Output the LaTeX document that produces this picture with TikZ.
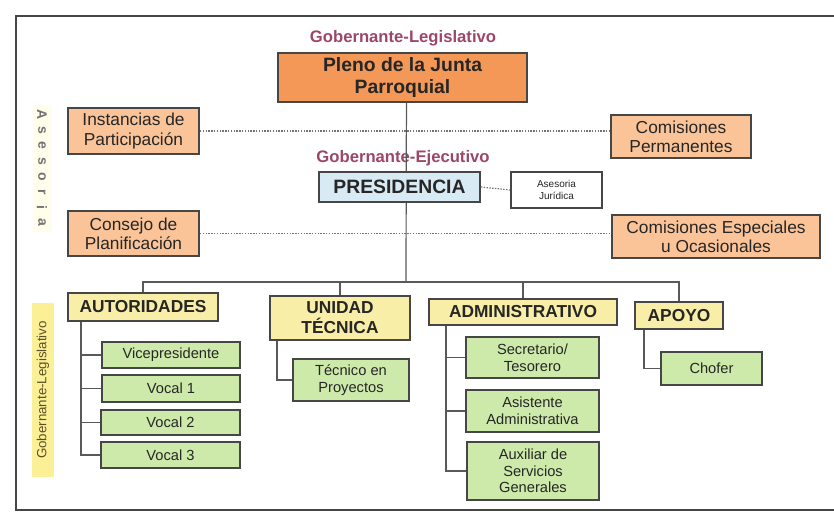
\documentclass[tikz,border=0pt]{standalone}
\usepackage{fontspec}
\setmainfont{Liberation Sans}
\definecolor{plenoorange}{RGB}{244,152,88}
\definecolor{peach}{RGB}{250,196,152}
\definecolor{presblue}{RGB}{216,234,244}
\definecolor{unityellow}{RGB}{248,238,168}
\definecolor{staffgreen}{RGB}{205,234,170}
\definecolor{labelmauve}{RGB}{156,70,104}
\definecolor{framegray}{RGB}{70,70,70}
\definecolor{stripyellow}{RGB}{252,240,150}
\tikzset{
  box/.style={draw=framegray, line width=1.4pt, align=center, text=black!85, inner sep=1pt},
  peachbox/.style={box, fill=peach, font=\fontsize{13}{14.5}\selectfont},
  unitbox/.style={box, fill=unityellow, font=\bfseries\fontsize{13}{15}\selectfont},
  staffbox/.style={box, fill=staffgreen, font=\fontsize{11}{12.5}\selectfont},
  tag/.style={text=labelmauve, font=\bfseries\fontsize{12.5}{14}\selectfont},
  link/.style={draw=black!65, line width=0.9pt},
  advice/.style={draw=black!55, line width=0.9pt, dash pattern=on 1.1pt off 1pt}
}
\begin{document}
\begin{tikzpicture}[x=0.75pt,y=0.75pt,yscale=-1]
\useasboundingbox (0,0) rectangle (834,521);
% frame
\draw [framegray, line width=1.6pt] (850,16) -- (16,16) -- (16,510) -- (850,510);
\fill [yellow!8] (33,105) rectangle (52,232);
% top levels
\node (govtop) [tag] at (403,38) {Gobernante-Legislativo};
\node (pleno) [box, fill=plenoorange, minimum width=186.75pt, minimum height=36.75pt, font=\bfseries\fontsize{14.5}{16.5}\selectfont] at (402.5,77.5) {Pleno de la Junta\\Parroquial};
\node (govexe) [tag] at (403,158) {Gobernante-Ejecutivo};
\node (presid) [box, fill=presblue, minimum width=120.75pt, minimum height=22.5pt, font=\bfseries\fontsize{14.5}{16}\selectfont] at (399.5,187) {PRESIDENCIA};
\node (asesjur) [box, fill=white, line width=1.1pt, minimum width=68.25pt, minimum height=27pt, font=\fontsize{7.5}{9}\selectfont] at (556.5,190) {Asesoria\\Jurídica};
% asesoria
\node (inst) [peachbox, minimum width=98.25pt, minimum height=34.5pt] at (133.5,131) {Instancias de\\Participación};
\node (consejo) [peachbox, minimum width=98.25pt, minimum height=33.75pt] at (133.5,233.5) {Consejo de\\Planificación};
\node (comperm) [peachbox, minimum width=105pt, minimum height=32.25pt] at (681,136.5) {Comisiones\\Permanentes};
\node (comesp) [peachbox, minimum width=156pt, minimum height=32.25pt] at (716,236.5) {Comisiones Especiales\\u Ocasionales};
\foreach \l [count=\i from 0] in {A,s,e,s,o,r,i,a}
  \node (ase-\i) [rotate=-90, text=black!55, font=\bfseries\fontsize{10.5}{10.5}\selectfont] at (42,115+15.4*\i) {\l};
\node (govleg) [rotate=90, fill=stripyellow, minimum width=130.5pt, minimum height=15pt, text={rgb,255:red,90;green,80;blue,40}, font=\fontsize{10}{10}\selectfont] at (43,390) {Gobernante-Legislativo};
% units
\node (autor) [unitbox, minimum width=112.5pt, minimum height=21pt] at (143,307) {AUTORIDADES};
\node (unidad) [unitbox, minimum width=105pt, minimum height=33pt] at (340,318) {UNIDAD\\TÉCNICA};
\node (admin) [unitbox, minimum width=141pt, minimum height=19.5pt] at (523,312) {ADMINISTRATIVO};
\node (apoyo) [unitbox, minimum width=66pt, minimum height=20.25pt] at (679,315.5) {APOYO};
% staff
\node (vice) [staffbox, minimum width=103.5pt, minimum height=19.5pt] at (171,355) {Vicepresidente};
\node (vocal1) [staffbox, minimum width=103.5pt, minimum height=20.25pt] at (171,388.5) {Vocal 1};
\node (vocal2) [staffbox, minimum width=104.25pt, minimum height=18.75pt] at (170.5,422.5) {Vocal 2};
\node (vocal3) [staffbox, minimum width=104.25pt, minimum height=19.5pt] at (170.5,455) {Vocal 3};
\node (tecnico) [staffbox, minimum width=87pt, minimum height=31.5pt] at (351,380) {Técnico en\\Proyectos};
\node (secre) [staffbox, minimum width=99.75pt, minimum height=30.75pt] at (532.5,357.5) {Secretario/\\Tesorero};
\node (asist) [staffbox, minimum width=99.75pt, minimum height=31.5pt] at (532.5,411) {Asistente\\Administrativa};
\node (auxil) [staffbox, minimum width=99pt, minimum height=43.5pt] at (533,471) {Auxiliar de\\Servicios\\Generales};
\node (chofer) [staffbox, minimum width=75.75pt, minimum height=24.75pt] at (711.5,368.5) {Chofer};
% advisory lines
\draw [advice] (inst.east) -- (inst.east -| comperm.west);
\draw [advice] (consejo.east) -- (consejo.east -| comesp.west);
\draw [advice] (presid.east) -- (asesjur.west);
% hierarchy
\coordinate (bus) at (406,282);
\draw [link] ([xshift=3pt]pleno.south) -- ([xshift=5pt]presid.north);
\draw [link] ([xshift=5pt]presid.south) -- (bus);
\draw [link] (autor.north) |- (bus) -| (apoyo.north);
\draw [link] (unidad.north) -- (unidad.north |- bus);
\draw [link] (admin.north) -- (admin.north |- bus);
\coordinate (autorstem) at ([xshift=10.5pt]autor.south west);
\coordinate (unistem) at ([xshift=6pt]unidad.south west);
\coordinate (adminstem) at ([xshift=13.5pt]admin.south west);
\coordinate (apoyostem) at ([xshift=7.5pt]apoyo.south west);
\draw [link] (autorstem) |- (vocal3.west);
\foreach \n in {vice,vocal1,vocal2}
  \draw [link] (autorstem |- \n.west) -- (\n.west);
\draw [link] (unistem) |- (tecnico.west);
\draw [link] (adminstem) |- (auxil.west);
\foreach \n in {secre,asist}
  \draw [link] (adminstem |- \n.west) -- (\n.west);
\draw [link] (apoyostem) |- (chofer.west);
\end{tikzpicture}
\end{document}
